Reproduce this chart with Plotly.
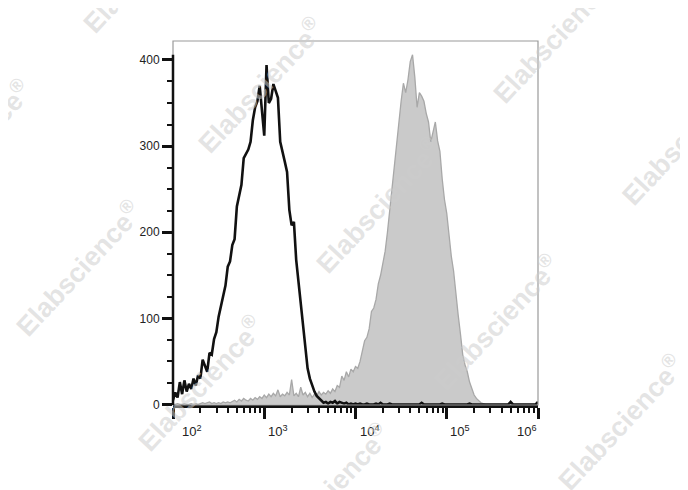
import numpy as np
import plotly.graph_objects as go

# ---------------- data ----------------
LOG_START = 2.0      # first channel, log10 units
LOG_STEP = 0.025     # channel width, log10 units

# unstained / isotype control (black outline)
control_counts = [
    5, 14, 8, 26, 12, 28, 15, 24, 18, 30,
    22, 34, 30, 52, 45, 38, 60, 58, 76, 84,
    102, 114, 128, 138, 160, 166, 185, 192, 230, 244,
    255, 286, 292, 296, 305, 330, 345, 352, 370, 340,
    312, 394, 350, 355, 372, 364, 356, 305, 295, 282,
    270, 226, 208, 212, 168, 142, 112, 90, 62, 42,
    30, 22, 15, 10, 7, 4, 2, 3, 1, 3,
    2, 4, 1, 3, 2, 1, 2, 0, 1, 0,
    1, 0, 1, 0, 0, 1, 0, 0, 0, 1,
    0, 2, 0, 0, 0, 1, 0, 0, 0, 0,
    0, 0, 0, 0, 0, 0, 0, 0, 0, 2,
    0, 0, 0, 0, 0, 0, 0, 0, 1, 0,
    0, 0, 0, 0, 0, 0, 0, 0, 0, 0,
    1, 0, 0, 0, 0, 0, 0, 0, 0, 0,
    0, 0, 0, 0, 0, 0, 0, 0, 3, 0,
    0, 0, 0, 0, 0, 0, 0, 0, 0, 0,
    3,
]

# stained sample (filled grey)
stained_counts = [
    0, 0, 1, 0, 0, 1, 0, 0, 1, 0,
    1, 0, 1, 2, 1, 2, 3, 1, 2, 1,
    2, 1, 3, 2, 3, 2, 4, 5, 3, 6,
    4, 7, 5, 4, 7, 5, 8, 6, 9, 7,
    11, 8, 12, 9, 13, 10, 17, 9, 12, 10,
    14, 11, 29, 10, 13, 9, 20, 11, 14, 9,
    13, 8, 12, 10, 15, 11, 14, 12, 16, 13,
    18, 15, 22, 20, 33, 28, 38, 32, 41, 38,
    44, 42, 50, 64, 74, 78, 88, 108, 112, 122,
    140, 150, 164, 178, 200, 226, 252, 272, 299, 330,
    352, 373, 362, 377, 398, 406, 380, 345, 362, 358,
    352, 338, 328, 305, 316, 328, 306, 294, 262, 238,
    222, 196, 172, 155, 126, 104, 82, 58, 46, 38,
    26, 18, 11, 7, 4, 2, 1, 0, 0, 0,
    0, 0, 0, 0, 0, 0, 0, 0, 0, 0,
    0, 0, 0, 0, 0, 0, 0, 0, 0, 0,
    0,
]

x_tick_values = [1e2, 1e3, 1e4, 1e5, 1e6]
x_tick_labels = ["10<sup>2</sup>", "10<sup>3</sup>", "10<sup>4</sup>",
                 "10<sup>5</sup>", "10<sup>6</sup>"]
y_tick_values = [0, 100, 200, 300, 400]
y_tick_labels = ["0", "100", "200", "300", "400"]
watermark_text = "Elabscience<sup>®</sup>"

# ---------------- figure ----------------
channels = 10 ** (LOG_START + LOG_STEP * np.arange(len(stained_counts)))

FONT = "Liberation Sans, Arial, sans-serif"

fig = go.Figure()
fig.add_trace(go.Scatter(
    x=channels, y=stained_counts, mode="lines",
    line=dict(color="#a8a8a8", width=1.3),
    fill="tozeroy", fillcolor="#cacaca",
    hoverinfo="skip", showlegend=False,
))
fig.add_trace(go.Scatter(
    x=channels, y=control_counts, mode="lines",
    line=dict(color="#111111", width=2.6),
    hoverinfo="skip", showlegend=False,
))

minor_x = [k * 10 ** d for d in range(2, 6) for k in range(2, 10)]
minor_y = [v for v in range(25, 400, 25) if v % 100]

fig.update_xaxes(
    type="log", range=[2, 6],
    showgrid=False, zeroline=False,
    showline=True, linecolor="#111111", linewidth=2.5,
    ticks="outside", tickvals=x_tick_values, showticklabels=False,
    ticklen=11, tickwidth=2.8, tickcolor="#111111",
    minor=dict(ticks="outside", tickvals=minor_x, ticklen=5,
               tickwidth=1.6, tickcolor="#111111", showgrid=False),
)
fig.update_yaxes(
    range=[-0.6, 422],
    showgrid=False, zeroline=False, showline=False,
    ticks="outside", tickvals=y_tick_values, ticktext=y_tick_labels,
    ticklen=10, tickwidth=2.8, tickcolor="#111111",
    tickfont=dict(family=FONT, size=12, color="#222222"),
    minor=dict(ticks="outside", tickvals=minor_y, ticklen=5,
               tickwidth=1.6, tickcolor="#111111", showgrid=False),
)

annotations = []
label_style = [("left", 7), ("left", 2), ("left", 2), ("left", 1), ("right", 1)]
for v, t, (anchor, shift) in zip(x_tick_values, x_tick_labels, label_style):
    annotations.append(dict(
        x=np.log10(v), xref="x", y=0, yref="paper",
        text=t, showarrow=False, xanchor=anchor, yanchor="top",
        xshift=shift, yshift=-16,
        font=dict(family=FONT, size=13, color="#222222"),
    ))

# watermark placements (paper coordinates)
watermark_pos = [(-0.077, 1.209), (-0.562, 0.709), (0.238, 0.879),
                 (1.047, 1.016), (0.562, 0.549), (1.40, 0.735),
                 (-0.26, 0.376), (0.885, 0.228), (0.074, 0.060),
                 (1.225, -0.047), (0.42, -0.235)]
for wx, wy in watermark_pos:
    annotations.append(dict(
        x=wx, y=wy, xref="paper", yref="paper", text=watermark_text,
        showarrow=False, textangle=-47, xanchor="center", yanchor="middle",
        font=dict(family=FONT, size=27, color="rgba(205,205,205,0.55)",
                  weight="bold"),
    ))

shapes = [
    dict(type="rect", xref="paper", yref="paper", x0=0, x1=1, y0=0, y1=1,
         line=dict(color="#9a9a9a", width=1.2), layer="above"),
    dict(type="line", xref="paper", yref="y", x0=0, x1=0, y0=-0.6, y1=406,
         line=dict(color="#111111", width=2.5), layer="above"),
]

# the page body adds an 8 px margin, so the figure is 8 px smaller
fig.update_layout(
    width=680, height=482,
    margin=dict(l=165, r=150, t=33, b=85),
    plot_bgcolor="white", paper_bgcolor="white",
    font=dict(family=FONT, size=12, color="#222222"),
    annotations=annotations, shapes=shapes,
    showlegend=False,
)

fig.write_html("out.html")
